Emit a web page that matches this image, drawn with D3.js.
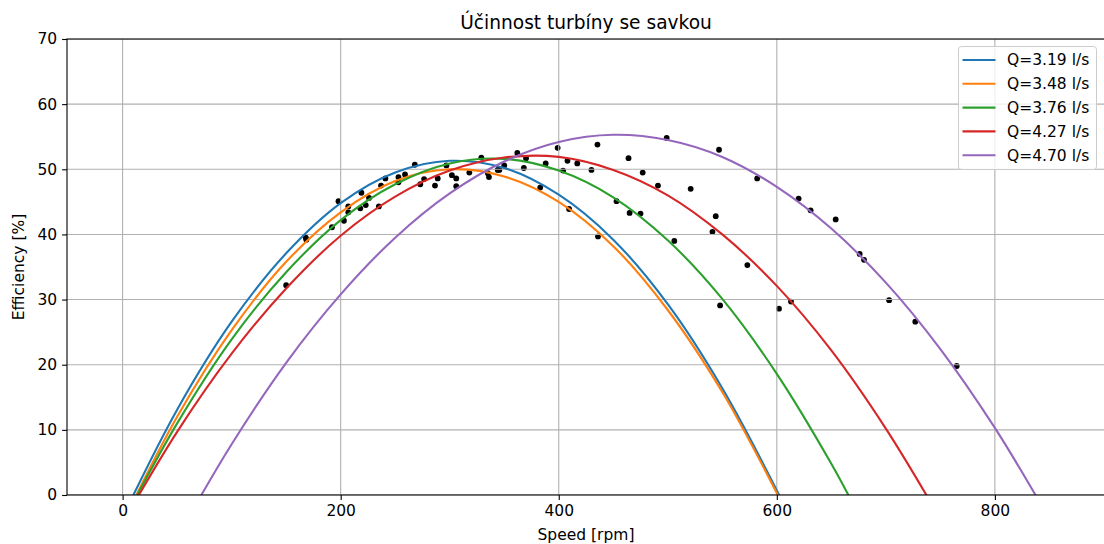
<!DOCTYPE html>
<html>
<head>
<meta charset="utf-8">
<script src="https://cdn.jsdelivr.net/npm/d3@7"></script>
<style>
  html, body { margin: 0; padding: 0; background: #ffffff; }
  svg { display: block; font-family: "DejaVu Sans", sans-serif; }
</style>
</head>
<body>
<svg id="chart" width="1104" height="544"></svg>
<script>
// Fitted efficiency curves, one per flow rate
const flowLabels = ["Q=3.19 l/s", "Q=3.48 l/s", "Q=3.76 l/s", "Q=4.27 l/s", "Q=4.70 l/s"];
const flowColors = ["#1f77b4", "#ff7f0e", "#2ca02c", "#d62728", "#9467bd"];

const speedQ319 = [0, 50, 100, 150, 200, 250, 300, 350, 400, 450, 500, 550, 600, 610];
const effQ319   = [-3.4, 13.1, 26.6, 37.1, 44.8, 49.5, 51.3, 50.2, 46.1, 39.2, 29.3, 16.4, 0.7, -2.8];

const speedQ348 = [0, 50, 100, 150, 200, 250, 300, 350, 400, 450, 500, 550, 600, 610];
const effQ348   = [-4.3, 12.0, 25.3, 35.8, 43.4, 48.2, 50.0, 48.9, 45.0, 38.2, 28.4, 15.8, 0.3, -3.1];

const speedQ376 = [0, 50, 100, 150, 200, 250, 300, 350, 400, 450, 500, 550, 600, 650, 670];
const effQ376   = [-4.2, 11.0, 23.9, 34.2, 42.2, 47.7, 50.9, 51.6, 49.8, 45.7, 39.1, 30.1, 18.6, 4.8, -1.4];

const speedQ427 = [0, 50, 100, 150, 200, 250, 300, 350, 400, 450, 500, 550, 600, 650, 700, 740];
const effQ427   = [-4.3, 9.7, 21.7, 31.7, 39.8, 45.8, 49.8, 51.8, 51.9, 49.9, 46.0, 40.0, 32.1, 22.2, 10.2, -0.8];

const speedQ470 = [50, 100, 150, 200, 250, 300, 350, 400, 450, 500, 550, 600, 650, 700, 750, 800, 840];
const effQ470   = [-6.5, 7.8, 20.3, 30.8, 39.5, 46.3, 51.2, 54.2, 55.3, 54.5, 51.9, 47.3, 40.9, 32.6, 22.4, 10.3, -0.8];

// Measured operating points
const measSpeed = [150, 168, 168.5, 192, 198, 203, 207, 207, 219, 218, 223, 226, 235, 237, 241, 253, 253, 259, 268, 273,
  276.5, 286.5, 289, 297, 302, 306, 306, 318, 329, 335, 336, 344, 345.5, 350, 362, 370, 368, 383, 388, 399,
  404, 408, 409.5, 417, 430, 435.5, 436, 453, 464, 465, 475, 477, 491, 499, 506, 521, 541, 544, 547, 548,
  573, 582, 602, 613, 620, 631, 654, 676, 680, 703, 727, 765];
const measEff = [32.2, 39.5, 39.2, 41.1, 45.1, 42.1, 44.3, 43.4, 46.4, 44.0, 44.5, 45.6, 44.3, 47.5, 48.6, 48.8, 48.0, 49.2, 50.7, 47.7,
  48.5, 47.5, 48.6, 50.6, 49.1, 48.6, 47.4, 49.5, 51.8, 49.4, 48.8, 49.9, 49.9, 50.6, 52.5, 51.7, 50.2, 47.2, 50.9, 53.3,
  49.8, 51.3, 43.9, 50.9, 49.9, 53.8, 39.7, 45.1, 51.7, 43.3, 43.2, 49.5, 47.5, 54.8, 39.0, 47.0, 40.4, 42.8, 53.0, 29.1,
  35.3, 48.6, 28.6, 29.7, 45.5, 43.7, 42.3, 37.0, 36.1, 29.9, 26.6, 19.8];

const xTicks = [0, 200, 400, 600, 800];
const yTicks = [0, 10, 20, 30, 40, 50, 60, 70];

const titleText = "Účinnost turbíny se savkou";
const xLabelText = "Speed [rpm]";
const yLabelText = "Efficiency [%]";

// Layout
const plot = { left: 67, right: 1105, top: 39, bottom: 495 };
const fontSize = "15.5px";
const svg = d3.select("#chart");

const x = d3.scaleLinear().domain([-51, 901]).range([plot.left, plot.right]);
const y = d3.scaleLinear().domain([0, 70]).range([plot.bottom, plot.top]);

const curves = [
  { label: flowLabels[0], color: flowColors[0], speed: speedQ319, eff: effQ319 },
  { label: flowLabels[1], color: flowColors[1], speed: speedQ348, eff: effQ348 },
  { label: flowLabels[2], color: flowColors[2], speed: speedQ376, eff: effQ376 },
  { label: flowLabels[3], color: flowColors[3], speed: speedQ427, eff: effQ427 },
  { label: flowLabels[4], color: flowColors[4], speed: speedQ470, eff: effQ470 }
];

svg.append("defs").append("clipPath").attr("id", "plotClip")
  .append("rect")
  .attr("x", plot.left).attr("y", plot.top)
  .attr("width", plot.right - plot.left).attr("height", plot.bottom - plot.top);

const area = svg.append("g").attr("clip-path", "url(#plotClip)");

// Measured points sit below the grid
area.append("g").selectAll("circle")
  .data(measSpeed.map((s, i) => [s, measEff[i]]))
  .join("circle")
  .attr("cx", d => x(d[0]))
  .attr("cy", d => y(d[1]))
  .attr("r", 2.9)
  .attr("fill", "#000000");

// Grid
const grid = area.append("g").attr("stroke", "#b0b0b0").attr("stroke-width", 1.1);
grid.selectAll("line.gx").data(xTicks).join("line").attr("class", "gx")
  .attr("x1", d => x(d)).attr("x2", d => x(d))
  .attr("y1", plot.top).attr("y2", plot.bottom);
grid.selectAll("line.gy").data(yTicks).join("line").attr("class", "gy")
  .attr("x1", plot.left).attr("x2", plot.right)
  .attr("y1", d => y(d)).attr("y2", d => y(d));

// Fitted curves
const line = d3.line()
  .x(d => x(d[0]))
  .y(d => y(d[1]))
  .curve(d3.curveCatmullRom.alpha(0.5));

area.append("g").selectAll("path")
  .data(curves)
  .join("path")
  .attr("d", c => line(c.speed.map((s, i) => [s, c.eff[i]])))
  .attr("fill", "none")
  .attr("stroke", c => c.color)
  .attr("stroke-width", 2.1)
  .attr("stroke-linejoin", "round")
  .attr("stroke-linecap", "butt");

// Axes
const xAxis = d3.axisBottom(x).tickValues(xTicks).tickSize(4.9).tickPadding(4.9).tickSizeOuter(0);
const yAxis = d3.axisLeft(y).tickValues(yTicks).tickSize(4.9).tickPadding(4.9).tickSizeOuter(0);

const gx = svg.append("g").attr("transform", `translate(0,${plot.bottom})`).call(xAxis);
const gy = svg.append("g").attr("transform", `translate(${plot.left},0)`).call(yAxis);
[gx, gy].forEach(g => {
  g.select(".domain").remove();
  g.selectAll(".tick line").attr("stroke", "#000").attr("stroke-width", 1.1);
  g.selectAll(".tick text").attr("fill", "#000").attr("font-size", fontSize)
    .attr("font-family", "DejaVu Sans, sans-serif");
});

// Spines
svg.append("rect")
  .attr("x", plot.left).attr("y", plot.top)
  .attr("width", plot.right - plot.left).attr("height", plot.bottom - plot.top)
  .attr("fill", "none").attr("stroke", "#000").attr("stroke-width", 1.1);

// Titles
svg.append("text")
  .attr("x", (plot.left + plot.right) / 2).attr("y", 29)
  .attr("text-anchor", "middle").attr("font-size", "18.6px").attr("fill", "#000")
  .text(titleText);
svg.append("text")
  .attr("x", (plot.left + plot.right) / 2).attr("y", 540)
  .attr("text-anchor", "middle").attr("font-size", fontSize).attr("fill", "#000")
  .text(xLabelText);
svg.append("text")
  .attr("transform", `translate(24,${(plot.top + plot.bottom) / 2}) rotate(-90)`)
  .attr("text-anchor", "middle").attr("font-size", fontSize).attr("fill", "#000")
  .text(yLabelText);

// Legend
const legend = svg.append("g").attr("transform", "translate(958.5,46.5)");
legend.append("rect")
  .attr("width", 138).attr("height", 123).attr("rx", 3)
  .attr("fill", "#ffffff").attr("fill-opacity", 0.8)
  .attr("stroke", "#cccccc").attr("stroke-width", 1);
const items = legend.selectAll("g.item").data(curves).join("g").attr("class", "item")
  .attr("transform", (d, i) => `translate(0,${13.5 + i * 23.8})`);
items.append("line")
  .attr("x1", 4).attr("x2", 37).attr("y1", 0).attr("y2", 0)
  .attr("stroke", d => d.color).attr("stroke-width", 2.1);
items.append("text")
  .attr("x", 48.5).attr("y", 0).attr("dy", "0.35em")
  .attr("font-size", fontSize).attr("fill", "#000")
  .text(d => d.label);
</script>
</body>
</html>
